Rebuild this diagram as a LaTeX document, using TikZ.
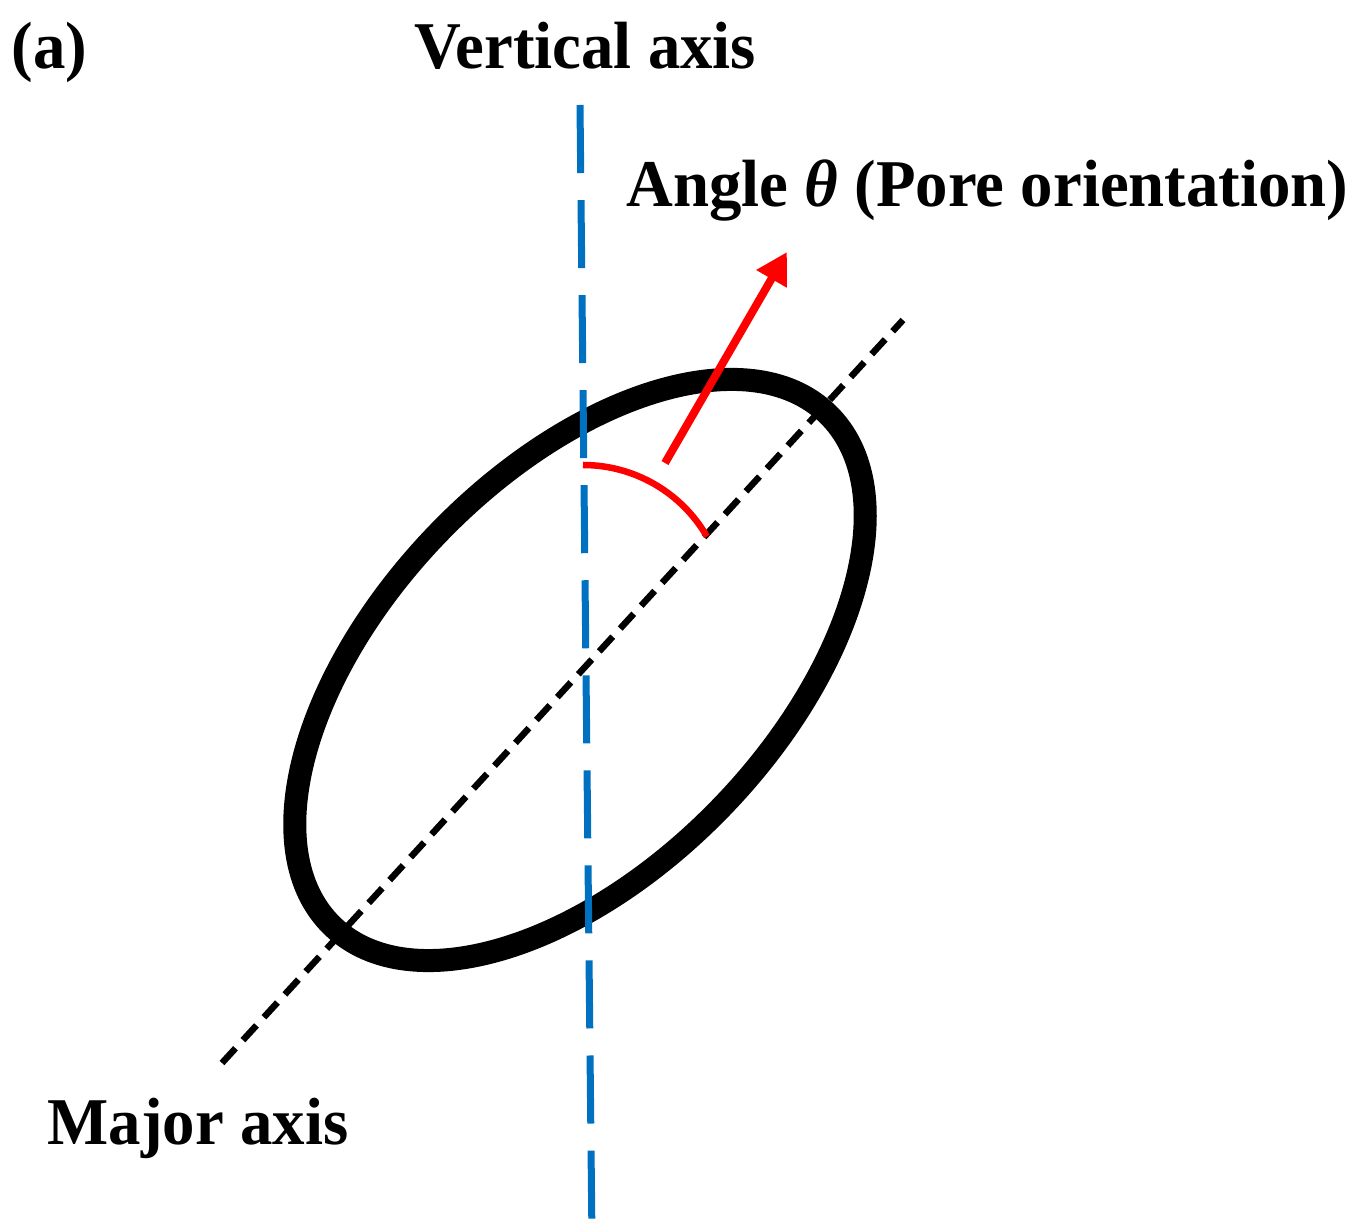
\documentclass[tikz,border=0pt]{standalone}
\usepackage{fontspec}
\setmainfont[FakeStretch=0.97]{Liberation Serif}
\usetikzlibrary{arrows.meta}
\definecolor{axBlue}{HTML}{0070C0}
\definecolor{axRed}{HTML}{FF0000}

\begin{document}
\begin{tikzpicture}[x=0.01cm, y=-0.01cm,
  lbl/.style={anchor=base west, inner sep=0pt, font=\fontsize{19}{23}\selectfont\bfseries}]
  % Canvas, in pixels of the sketch
  \useasboundingbox (0,0) rectangle (1369,1225);

  % Labels
  \node[lbl] (tag) at (11,69) {(a)};
  \node[lbl] (vlabel) at (414,69) {Vertical axis};
  \node[lbl] (alabel) at (626,207) {Angle \textit{θ} (Pore orientation)};
  \node[lbl] (mlabel) at (47,1145) {Major axis};

  % Axis end points
  \coordinate (vtop) at (580,105);
  \coordinate (vbot) at (592,1240);
  \coordinate (mlo) at (222,1063);
  \coordinate (mhi) at (903,320);
  \coordinate (ctr) at (580,670);

  % Pore outline
  \draw[line width=0.23cm, rotate around={46:(ctr)}] (ctr) ellipse [x radius=3.56cm, y radius=1.97cm];

  % Major axis
  \draw[black, line width=0.065cm, dash pattern=on 0.2cm off 0.11cm] (mlo) -- (mhi);

  % Vertical axis
  \draw[axBlue, line width=0.07cm, dash pattern=on 0.68cm off 0.27cm] (vtop) -- (vbot);

  % Angle arc and arrow
  \coordinate (arcstart) at (583,465);
  \draw[axRed, line width=0.065cm] (arcstart) arc[start angle=90, end angle=30, radius=1.43cm];
  \coordinate (atail) at (665,463);
  \coordinate (ahead) at (787,252);
  \draw[axRed, line width=0.08cm, -{Triangle[length=0.31cm, width=0.33cm]}] (atail) -- (ahead);
\end{tikzpicture}
\end{document}
